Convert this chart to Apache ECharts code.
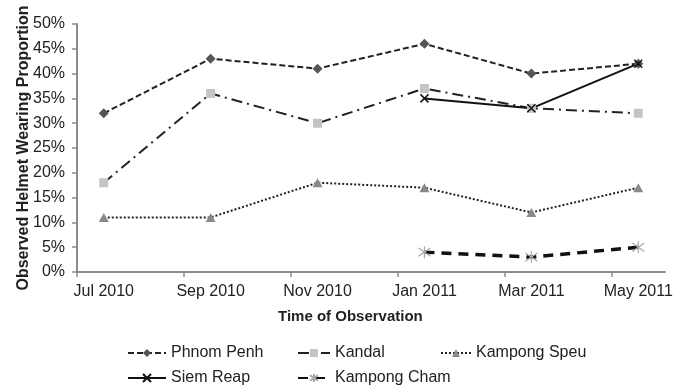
<!DOCTYPE html>
<html>
<head>
<meta charset="utf-8">
<title>Observed Helmet Wearing Proportion</title>
<script src="https://cdn.jsdelivr.net/npm/echarts@6/dist/echarts.min.js"></script>
<style>
  html, body { margin: 0; padding: 0; background: #fff; }
  #chart { width: 674px; height: 390px; }
</style>
</head>
<body>
<div id="chart"></div>
<script>
// x axis: months after Jul 2010; tick marks every second month
var tickMonths = [0, 2, 4, 6, 8, 10];
// observation rounds (mid-month), labels sit under the points
var obsMonths = [0.5, 2.5, 4.5, 6.5, 8.5, 10.5];
var obsLabels = ['Jul 2010', 'Sep 2010', 'Nov 2010', 'Jan 2011', 'Mar 2011', 'May 2011'];

// observed proportions (%)
var phnomPenh   = [32, 43, 41, 46, 40, 42];
var kandal      = [18, 36, 30, 37, 33, 32];
var kampongSpeu = [11, 11, 18, 17, 12, 17];
var siemReap    = [null, null, null, 35, 33, 42];
var kampongCham = [null, null, null, 4, 3, 5];

var FONT = 'Liberation Sans, Arial, Helvetica, sans-serif';

function pairs(vals) {
    return vals.map(function (v, i) { return [obsMonths[i], v]; });
}

var chart = echarts.init(document.getElementById('chart'));

// one legend box per entry so they sit in the same columns as the original
function legendAt(name, left, top, w) {
    return {
        data: [name],
        left: left,
        top: top,
        padding: 0,
        itemWidth: w,
        itemHeight: 10,
        selectedMode: false,
        textStyle: { fontFamily: FONT, fontSize: 16, color: '#222' }
    };
}

chart.setOption({
    animation: false,
    backgroundColor: '#fff',
    textStyle: { fontFamily: FONT },
    grid: { left: 77, right: 9, top: 24, bottom: 118, outerBoundsMode: 'none' },
    title: {
        text: 'Time of Observation',
        left: 278,
        top: 309,
        padding: 0,
        textStyle: { fontFamily: FONT, fontSize: 15, fontWeight: 'bold', color: '#222' }
    },
    legend: [
        legendAt('Phnom Penh', 127, 345, 38),
        legendAt('Kandal', 297, 345, 32),
        legendAt('Kampong Speu', 440, 345, 30),
        legendAt('Siem Reap', 127, 370, 38),
        legendAt('Kampong Cham', 297, 370, 32)
    ],
    xAxis: {
        type: 'value',
        min: 0,
        max: 11,
        splitLine: { show: false },
        axisLine: { lineStyle: { color: '#8c8c8c', width: 2 } },
        axisTick: { customValues: tickMonths, length: 5, lineStyle: { color: '#8c8c8c', width: 1.5 } },
        axisLabel: {
            customValues: obsMonths,
            margin: 12,
            fontSize: 16,
            color: '#222',
            fontFamily: FONT,
            formatter: function (v) { return obsLabels[obsMonths.indexOf(v)]; }
        }
    },
    yAxis: {
        type: 'value',
        min: 0,
        max: 50,
        interval: 5,
        name: 'Observed Helmet Wearing Proportion',
        nameLocation: 'middle',
        nameGap: 45,
        nameMoveOverlap: false,
        nameTextStyle: { fontFamily: FONT, fontSize: 16, fontWeight: 'bold', color: '#222' },
        splitLine: { show: false },
        axisLine: { show: true, lineStyle: { color: '#8c8c8c', width: 2 } },
        axisTick: { show: true, length: 5, lineStyle: { color: '#8c8c8c', width: 1.5 } },
        axisLabel: { margin: 12, fontSize: 16, color: '#222', fontFamily: FONT, formatter: '{value}%' }
    },
    series: [
        {
            name: 'Phnom Penh',
            type: 'line',
            data: pairs(phnomPenh),
            symbol: 'diamond',
            symbolSize: [10, 10],
            itemStyle: { color: '#555' },
            lineStyle: { color: '#222', width: 2, type: [6, 3] }
        },
        {
            name: 'Kandal',
            type: 'line',
            data: pairs(kandal),
            symbol: 'rect',
            symbolSize: 9,
            itemStyle: { color: '#c4c4c4' },
            lineStyle: { color: '#222', width: 2, type: [11, 5, 2, 5] }
        },
        {
            name: 'Kampong Speu',
            type: 'line',
            data: pairs(kampongSpeu),
            symbol: 'triangle',
            symbolSize: [10, 9],
            itemStyle: { color: '#8a8a8a' },
            lineStyle: { color: '#222', width: 2, type: [2, 2] }
        },
        {
            name: 'Siem Reap',
            type: 'line',
            data: pairs(siemReap),
            symbol: 'path://M0,0L10,10M10,0L0,10',
            symbolSize: 8,
            itemStyle: { color: 'none', borderColor: '#111', borderWidth: 1.5 },
            lineStyle: { color: '#111', width: 2 }
        },
        {
            name: 'Kampong Cham',
            type: 'line',
            data: pairs(kampongCham),
            // asterisk: vertical stroke plus an X
            symbol: 'path://M5,0L5,10M1.5,1.5L8.5,8.5M8.5,1.5L1.5,8.5',
            symbolSize: 12,
            itemStyle: { color: 'none', borderColor: '#a8a8a8', borderWidth: 1.2 },
            lineStyle: { color: '#111', width: 3.5, type: [10, 7] }
        }
    ]
});
</script>
</body>
</html>
